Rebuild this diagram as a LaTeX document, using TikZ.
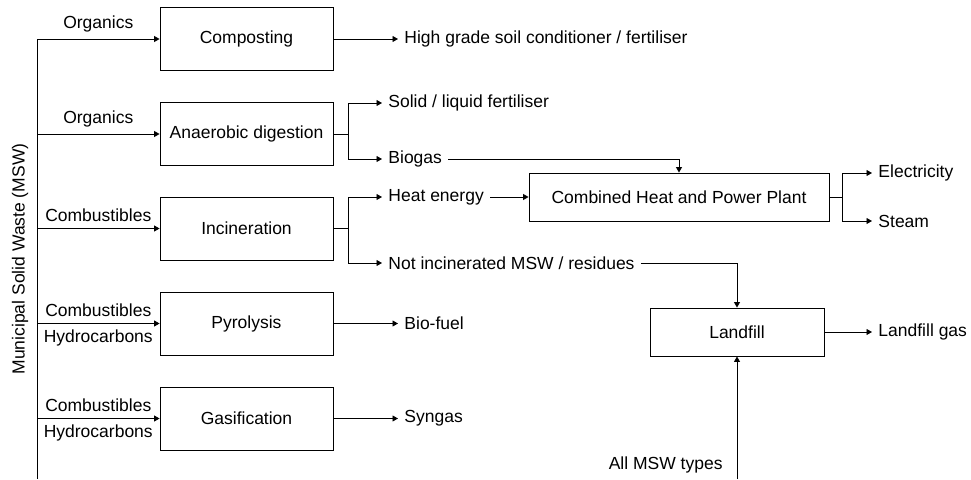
\documentclass[tikz,border=0pt]{standalone}
\usepackage{fontspec}
\setmainfont{Liberation Sans}
\usetikzlibrary{arrows.meta}
\tikzstyle{box}=[rectangle,draw=black,inner sep=3pt,
  minimum width=173pt,minimum height=63pt]
\tikzstyle{wide}=[box,minimum width=300pt,minimum height=48pt]
\tikzstyle{txt}=[inner sep=6pt]
\tikzstyle{arr}=[-{Triangle[length=5.5pt,width=6pt]}]
\tikzstyle{none}=[]
\begin{document}
\begin{tikzpicture}[x=1pt,y=-1pt,line width=0.9pt,
  font=\fontsize{17.5pt}{21pt}\selectfont]
            \useasboundingbox (0, 0) rectangle (971, 479);
            \node [style=box] (0) at (246.5, 39) {Composting};
            \node [style=box] (1) at (246.5, 134) {Anaerobic digestion};
            \node [style=box] (2) at (246.5, 228.5) {Incineration};
            \node [style=box] (3) at (246.5, 323.5) {Pyrolysis};
            \node [style=box] (4) at (246.5, 418.5) {Gasification};
            \node [style=wide] (5) at (679, 197) {Combined Heat and Power Plant};
            \node [style=box,minimum width=174pt,minimum height=48pt] (6) at (737, 332) {Landfill};
            \node [style=none] (10) at (37, 39) {};
            \node [style=none] (11) at (37, 134) {};
            \node [style=none] (12) at (37, 228.5) {};
            \node [style=none] (13) at (37, 323.5) {};
            \node [style=none] (14) at (37, 418.5) {};
            \node [style=none] (15) at (37, 479) {};
            \node [rotate=90] (16) at (20, 259) {Municipal Solid Waste (MSW)};
            \node [style=none] (20) at (348, 134) {};
            \node [style=none] (21) at (348, 228.5) {};
            \node [style=none] (22) at (842, 197) {};
            \node [style=none] (23) at (737, 479) {};
            \node [style=txt,anchor=west] (30) at (398, 39) {High grade soil conditioner / fertiliser};
            \node [style=txt,anchor=west] (31) at (382, 103) {Solid / liquid fertiliser};
            \node [style=txt,anchor=west] (32) at (382, 159) {Biogas};
            \node [style=txt,anchor=west] (33) at (382, 197) {Heat energy};
            \node [style=txt,anchor=west] (34) at (382, 263) {Not incinerated MSW / residues};
            \node [style=txt,anchor=west] (35) at (398, 323.5) {Bio-fuel};
            \node [style=txt,anchor=west] (36) at (398, 418.5) {Syngas};
            \node [style=txt,anchor=west] (37) at (872, 173) {Electricity};
            \node [style=txt,anchor=west] (38) at (872, 221) {Steam};
            \node [style=txt,anchor=west] (39) at (872, 332) {Landfill gas};
            \node [style=txt,anchor=east] (40) at (729, 465) {All MSW types};
            \draw (10.center) to (15.center);
            \draw [style=arr] (10.center) to node [style=txt,above] {Organics} (0);
            \draw [style=arr] (11.center) to node [style=txt,above] {Organics} (1);
            \draw [style=arr] (12.center) to node [style=txt,above] {Combustibles} (2);
            \draw [style=arr] (13.center) to node [style=txt,above] {Combustibles}
                node [style=txt,below] {Hydrocarbons} (3);
            \draw [style=arr] (14.center) to node [style=txt,above] {Combustibles}
                node [style=txt,below] {Hydrocarbons} (4);
            \draw [style=arr] (0) to (30);
            \draw (1) to (20.center);
            \draw [style=arr] (20.center) |- (31);
            \draw [style=arr] (20.center) |- (32);
            \draw (2) to (21.center);
            \draw [style=arr] (21.center) |- (33);
            \draw [style=arr] (21.center) |- (34);
            \draw [style=arr] (32) -| (5);
            \draw [style=arr] (33) to (5);
            \draw [style=arr] (34) -| (6);
            \draw [style=arr] (3) to (35);
            \draw [style=arr] (4) to (36);
            \draw (5) to (22.center);
            \draw [style=arr] (22.center) |- (37);
            \draw [style=arr] (22.center) |- (38);
            \draw [style=arr] (6) to (39);
            \draw [style=arr] (23.center) to (6);
    \end{tikzpicture}
\end{document}
